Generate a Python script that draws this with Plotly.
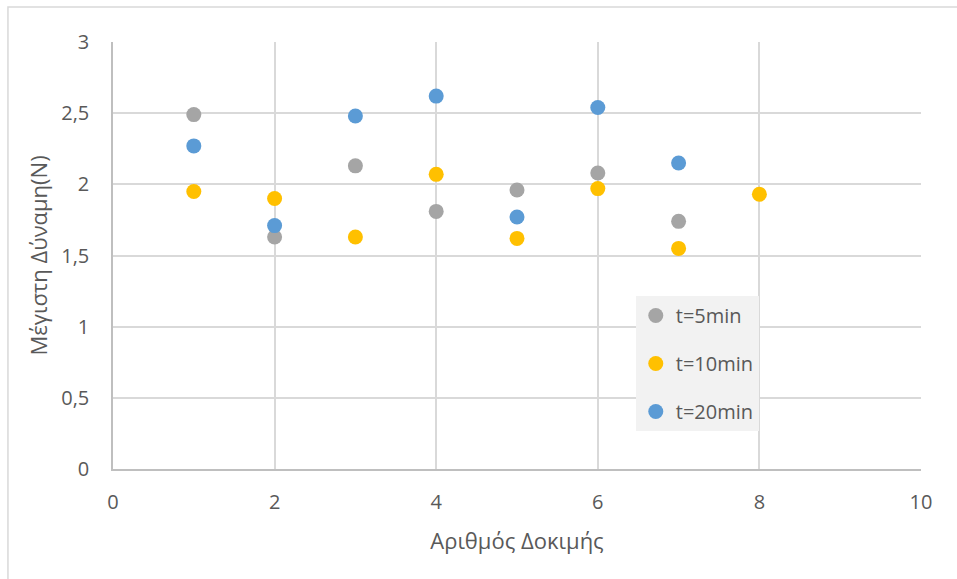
import plotly.graph_objects as go

# Trial numbers and peak force (N) per immersion time
trials = [1, 2, 3, 4, 5, 6, 7, 8]
force_5min = [2.49, 1.63, 2.13, 1.81, 1.96, 2.08, 1.74]
force_10min = [1.95, 1.90, 1.63, 2.07, 1.62, 1.97, 1.55, 1.93]
force_20min = [2.27, 1.71, 2.48, 2.62, 1.77, 2.54, 2.15]

series = [
    ("t=5min", force_5min, "#a5a5a5"),
    ("t=10min", force_10min, "#ffc000"),
    ("t=20min", force_20min, "#5b9bd5"),
]

x_ticks = [0, 2, 4, 6, 8, 10]
y_ticks = [0, 0.5, 1, 1.5, 2, 2.5, 3]
y_labels = ["0", "0,5", "1", "1,5", "2", "2,5", "3"]

font_family = "Open Sans, Liberation Sans, sans-serif"
text_color = "#595959"

fig = go.Figure()
for name, values, color in series:
    fig.add_trace(go.Scatter(
        x=trials[:len(values)], y=values, mode="markers", name=name,
        legendgroup=name,
        marker=dict(color=color, size=15, line=dict(width=0)),
    ))

fig.update_layout(
    width=957, height=579,
    margin=dict(l=113, r=36, t=42, b=110),
    paper_bgcolor="white", plot_bgcolor="white",
    font=dict(family=font_family, color=text_color, size=20),
    showlegend=True,
    legend=dict(
        x=0.647, y=0.405, xanchor="left", yanchor="top",
        bgcolor="#f2f2f2", font=dict(size=20, color=text_color),
        itemsizing="trace", tracegroupgap=19, traceorder="grouped",
    ),
    xaxis=dict(
        range=[0, 10], tickvals=x_ticks, ticktext=[str(v) for v in x_ticks],
        tickfont=dict(size=20),
        showgrid=True, gridcolor="#d9d9d9", gridwidth=1.5,
        showline=True, linecolor="#bfbfbf", linewidth=1.5,
        zeroline=False, ticks="outside", ticklen=14, tickcolor="rgba(0,0,0,0)",
        title=dict(text="Αριθμός Δοκιμής", font=dict(size=22, color=text_color), standoff=20),
    ),
    yaxis=dict(
        range=[0, 3], tickvals=y_ticks, ticktext=y_labels,
        tickfont=dict(size=20),
        showgrid=True, gridcolor="#d9d9d9", gridwidth=1.5,
        showline=True, linecolor="#bfbfbf", linewidth=1.5,
        zeroline=False, ticks="outside", ticklen=18, tickcolor="rgba(0,0,0,0)",
        title=dict(text="Μέγιστη Δύναμη(N)", font=dict(size=22, color=text_color), standoff=8),
    ),
    shapes=[dict(
        type="rect", xref="paper", yref="paper",
        x0=-0.130, x1=1.2, y0=-0.35, y1=1.082,
        line=dict(color="#d9d9d9", width=1.5), fillcolor="rgba(0,0,0,0)", layer="below",
    )],
)

fig.write_html("out.html")
